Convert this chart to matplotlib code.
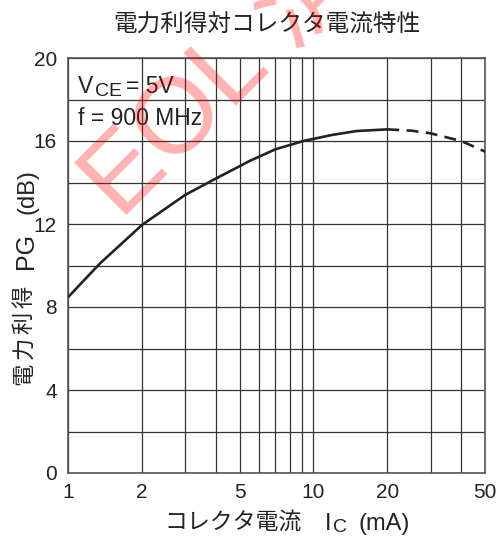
import matplotlib
matplotlib.use('Agg')
import matplotlib.pyplot as plt
from matplotlib.ticker import FixedLocator, NullFormatter

# 読み取った値
ic_solid = [1, 1.35, 2, 3, 3.9, 5.5, 7, 9.1, 12, 15, 20]
pg_solid = [8.47, 10.1, 11.95, 13.4, 14.12, 15.04, 15.6, 16.0, 16.3, 16.48, 16.56]
ic_dash = [20, 25, 30, 40, 50]
pg_dash = [16.56, 16.5, 16.37, 16.0, 15.49]

x_ticks = [1, 2, 5, 10, 20, 50]
x_grid = [1, 2, 3, 4, 5, 6, 7, 8, 9, 10, 20, 30, 40, 50]
y_ticks = [0, 4, 8, 12, 16, 20]
y_grid = [0, 2, 4, 6, 8, 10, 12, 14, 16, 18, 20]

W, H = 500, 536
lat = 'Liberation Sans'
jp = ['Liberation Sans', 'Noto Sans CJK JP']
ink = '#222222'

fig = plt.figure(figsize=(W / 100, H / 100), dpi=100)
ax = fig.add_axes([68 / W, 1 - 473 / H, (485 - 68) / W, (473 - 58) / H])

ax.set_xscale('log')
ax.set_xlim(1, 50)
ax.set_ylim(0, 20)

ax.plot(ic_solid, pg_solid, color=ink, lw=1.9, solid_capstyle='butt', zorder=3)
ax.plot(ic_dash, pg_dash, color=ink, lw=1.9, ls=(0, (4.5, 2.8)), zorder=3)

ax.xaxis.set_major_locator(FixedLocator(x_ticks))
ax.xaxis.set_minor_locator(FixedLocator([v for v in x_grid if v not in x_ticks]))
ax.xaxis.set_minor_formatter(NullFormatter())
ax.set_xticklabels([str(v) for v in x_ticks])
ax.yaxis.set_major_locator(FixedLocator(y_ticks))
ax.yaxis.set_minor_locator(FixedLocator([v for v in y_grid if v not in y_ticks]))
ax.set_yticklabels([str(v) for v in y_ticks])

ax.grid(True, which='both', color='#333333', lw=0.9)
ax.tick_params(which='both', length=0, labelsize=15, colors=ink)
ax.tick_params(axis='x', pad=7)
ax.tick_params(axis='y', pad=8)
for lab in ax.get_xticklabels() + ax.get_yticklabels():
    lab.set_family(lat)
for s in ax.spines.values():
    s.set_color('#555555')
    s.set_linewidth(1.2)

def px(x, y):
    return x / W, 1 - y / H

# タイトル
fig.text(*px(267, 26), '電力利得対コレクタ電流特性', family=jp, fontsize=17,
         color=ink, ha='center', va='center')

# 条件
fig.text(*px(78, 93), 'V', family=lat, fontsize=16.5, color=ink, ha='left', va='baseline')
fig.text(*px(95, 96.5), 'CE', family=lat, fontsize=14, color=ink, ha='left', va='baseline')
fig.text(*px(126, 93), '= 5V', family=lat, fontsize=16.5, color=ink, ha='left', va='baseline')
fig.text(*px(78, 125.5), 'f = 900 MHz', family=lat, fontsize=16.5, color=ink,
         ha='left', va='baseline')

# 縦軸ラベル（字間が広いので1文字ずつ置く）
for i, ch in enumerate('電力利得'):
    fig.text(*px(25, 374 - i * 25.7), ch, family=jp, fontsize=16, color=ink,
             rotation=90, ha='center', va='center')
fig.text(*px(33, 251), 'PG', family=lat, fontsize=18, color=ink, rotation=90,
         rotation_mode='anchor', ha='center', va='baseline')
fig.text(*px(33, 192), '(dB)', family=lat, fontsize=17, color=ink, rotation=90,
         rotation_mode='anchor', ha='center', va='baseline')

# 横軸ラベル
fig.text(*px(233, 522), 'コレクタ電流', family=jp, fontsize=16.5, color=ink,
         ha='center', va='center')
fig.text(*px(325, 530), 'I', family=lat, fontsize=17, color=ink, ha='left', va='baseline')
fig.text(*px(333, 532), 'C', family=lat, fontsize=14, color=ink, ha='left', va='baseline')
fig.text(*px(358, 530), '(mA)', family=lat, fontsize=17, color=ink, ha='left', va='baseline')

# 透かし
fig.text(*px(121, 221), 'EOL 済', family=jp, fontsize=77, color='red', alpha=0.3,
         rotation=45, rotation_mode='anchor', ha='left', va='baseline', zorder=10)

fig.savefig('out.png', dpi=100)
